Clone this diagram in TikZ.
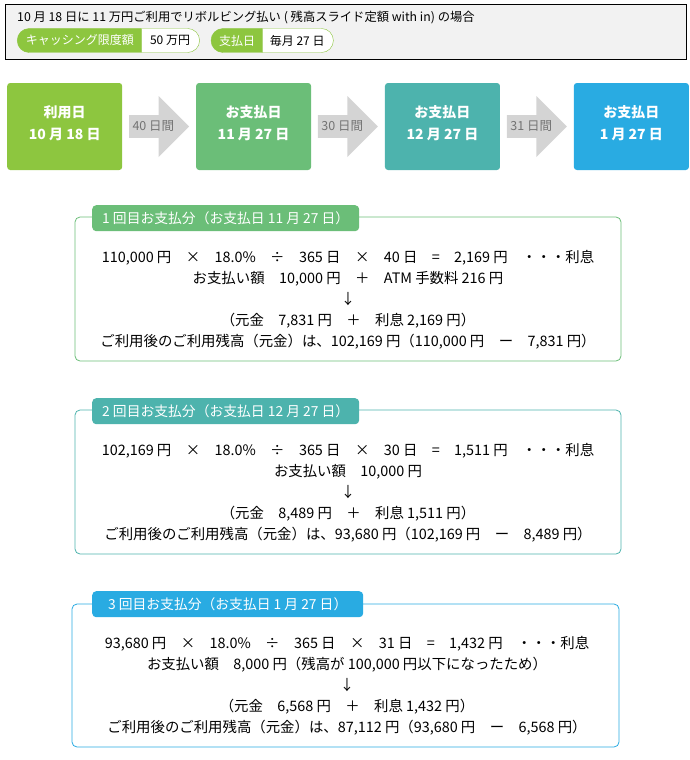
\documentclass[tikz,border=0pt]{standalone}
\usepackage{fontspec}
\setmainfont{Noto Sans CJK JP}
\usetikzlibrary{positioning, shapes.misc, shapes.arrows}
\definecolor{vert}{HTML}{8DC63F}
\definecolor{vertmoyen}{HTML}{6BBE78}
\definecolor{turquoise}{HTML}{4DB3AD}
\definecolor{bleu}{HTML}{29ABE2}
\definecolor{gris}{HTML}{D4D4D4}
\definecolor{gristexte}{HTML}{737373}
\definecolor{fond}{HTML}{F2F2F2}
\tikzset{
    % en-tete
    entete/.style={
           rectangle,
           draw=black, fill=fond, line width=0.8pt,
           minimum width=681pt,
           minimum height=55pt},
    % pastilles
    cle/.style={
           rounded rectangle,
           rounded rectangle right arc=none,
           fill=vert, draw=vert, text=white,
           minimum height=24pt, inner sep=0pt,
           font=\fontsize{12}{13}\selectfont},
    valeur/.style={
           rounded rectangle,
           rounded rectangle left arc=none,
           fill=white, draw=vert,
           minimum height=24pt, inner sep=0pt,
           font=\fontsize{12}{13}\selectfont},
    % blocs de date
    datum/.style={
           rectangle,
           rounded corners=3pt,
           text=white, align=center,
           minimum width=115pt,
           minimum height=87pt, inner sep=0pt,
           text depth=7.5pt,
           font=\fontsize{14}{21.5}\selectfont\bfseries},
    % fleches grises
    pil/.style={
           single arrow,
           fill=gris, draw=none,
           single arrow head extend=9.5pt,
           minimum height=60pt,
           minimum width=61pt, inner sep=0pt,
           text=gristexte,
           font=\fontsize{12.5}{13}\selectfont},
    % cadres des paiements
    ram/.style={
           rectangle,
           rounded corners=5pt,
           fill=white, line width=0.8pt,
           minimum width=546pt,
           minimum height=144pt},
    flik/.style={
           rectangle,
           rounded corners=4pt,
           anchor=north west, text=white,
           minimum height=26pt,
           inner xsep=10pt, inner ysep=0pt,
           font=\fontsize{13.8}{15}\selectfont},
    calcul/.style={
           align=center,
           font=\fontsize{14.4}{21}\selectfont}
}
\begin{document}
\begin{tikzpicture}[x=1pt, y=-1pt, node distance=6.5pt]
	\useasboundingbox (0,0) rectangle (690,760);
	%
	% en-tete
	%
	\node[entete] (tete) at (345.5,31.5) {};
	\node[anchor=west, inner sep=0pt, font=\fontsize{12.3}{13}\selectfont] (titre) at (17,17)
	   {10 月 18 日に 11 万円ご利用でリボルビング払い ( 残高スライド定額 with in) の場合};
	\node[cle, minimum width=124pt, anchor=west] (limite) at (17,40.5) {キャッシング限度額};
	\node[valeur, minimum width=58pt, right=0pt of limite] (limiteval) {50 万円};
	\node[cle, minimum width=51pt, right=11pt of limiteval] (jour) {支払日};
	\node[valeur, minimum width=71pt, right=0pt of jour] (jourval) {毎月 27 日};
	%
	% dates
	%
	\node[datum, fill=vert, anchor=west] (d1) at (7,126.5) {利用日\\10 月 18 日};
	\node[pil, right=of d1] (p1) {40 日間};
	\node[datum, fill=vertmoyen, right=of p1] (d2) {お支払日\\11 月 27 日};
	\node[pil, right=of d2] (p2) {30 日間};
	\node[datum, fill=turquoise, right=of p2] (d3) {お支払日\\12 月 27 日};
	\node[pil, right=of d3] (p3) {31 日間};
	\node[datum, fill=bleu, right=of p3] (d4) {お支払日\\1 月 27 日};
	%
	% paiement 1
	%
	\node[ram, draw=vertmoyen] (r1) at (348,289) {};
	\node[flik, fill=vertmoyen] (f1) at (92,205) {1 回目お支払分（お支払日 11 月 27 日）};
	\node[calcul] (c1) at (348,299.5) {110,000 円　×　18.0\%　÷　365 日　×　40 日　=　2,169 円　・・・利息\\
	   お支払い額　10,000 円　＋　ATM 手数料 216 円\\
	   ↓\\
	   （元金　7,831 円　＋　利息 2,169 円）\\
	   ご利用後のご利用残高（元金）は、102,169 円（110,000 円　ー　7,831 円）};
	%
	% paiement 2
	%
	\node[ram, draw=turquoise] (r2) at (348,482) {};
	\node[flik, fill=turquoise] (f2) at (92,398) {2 回目お支払分（お支払日 12 月 27 日）};
	\node[calcul] (c2) at (348,492.5) {102,169 円　×　18.0\%　÷　365 日　×　30 日　=　1,511 円　・・・利息\\
	   お支払い額　10,000 円\\
	   ↓\\
	   （元金　8,489 円　＋　利息 1,511 円）\\
	   ご利用後のご利用残高（元金）は、93,680 円（102,169 円　ー　8,489 円）};
	%
	% paiement 3
	%
	\node[ram, draw=bleu, minimum width=547pt, minimum height=143pt] (r3) at (345.5,675.5) {};
	\node[flik, fill=bleu, minimum width=271pt] (f3) at (92,591) {3 回目お支払分（お支払日 1 月 27 日）};
	\node[calcul] (c3) at (347,685.5) {93,680 円　×　18.0\%　÷　365 日　×　31 日　=　1,432 円　・・・利息\\
	   お支払い額　8,000 円（残高が 100,000 円以下になったため）\\
	   ↓\\
	   （元金　6,568 円　＋　利息 1,432 円）\\
	   ご利用後のご利用残高（元金）は、87,112 円（93,680 円　ー　6,568 円）};
\end{tikzpicture}
\end{document}
